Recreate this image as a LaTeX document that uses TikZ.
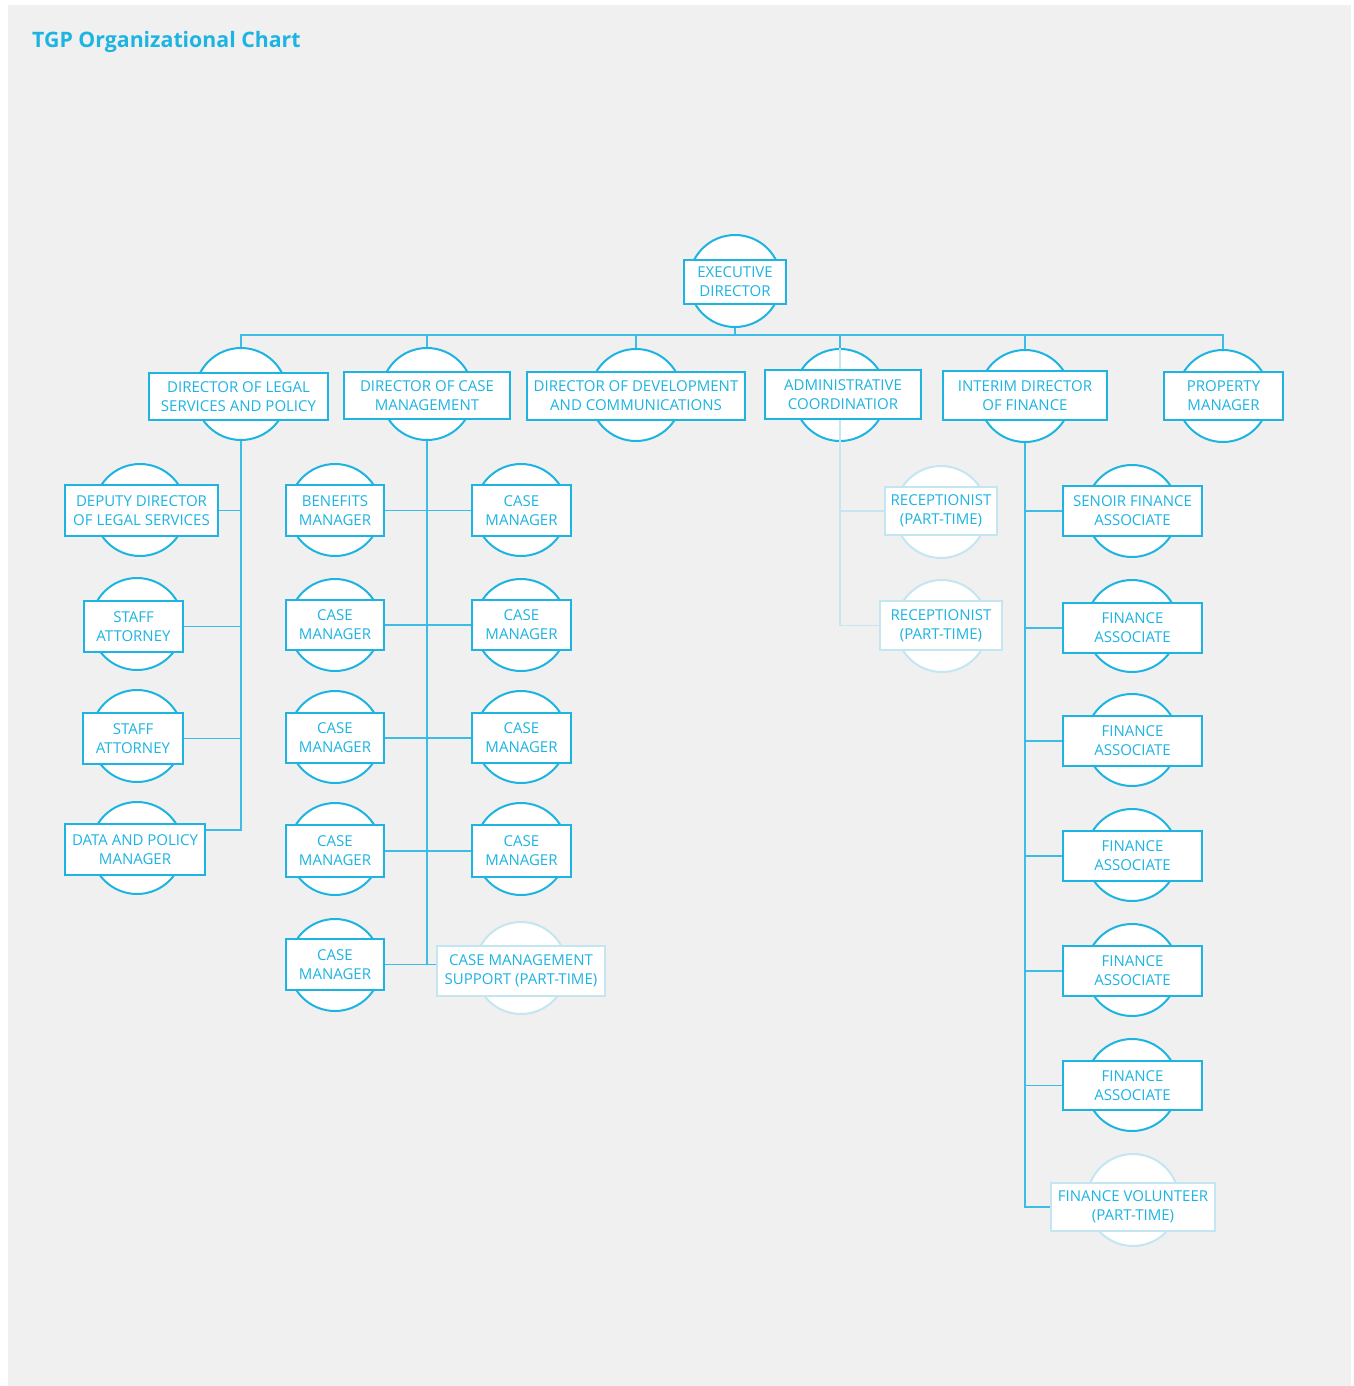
\documentclass[tikz,border=0pt]{standalone}
\usepackage{fontspec}
\setmainfont{Open Sans}
\definecolor{cy}{RGB}{29,180,226}
\definecolor{fa}{RGB}{196,230,240}
\definecolor{bg}{RGB}{240,240,240}
\definecolor{ln}{RGB}{60,188,230}
\tikzset{
 circ/.style={circle,draw=cy,fill=white,line width=2pt,minimum size=92pt,inner sep=0pt},
 box/.style={rectangle,draw=cy,fill=white,line width=2pt,inner sep=0pt,align=center,text=cy,font=\fontsize{15}{19}\selectfont},
 faded/.style={draw=fa},
 conn/.style={draw=ln,line width=1.1pt},
 fconn/.style={draw=fa,line width=1.5pt},
 titlestyle/.style={anchor=base west,text=cy,inner sep=0pt,font=\fontsize{21.3}{25}\selectfont\bfseries},
}
% [style] name cx cy x1 y1 x2 y2 text
\newcommand\onode[9][]{%
  \node[circ,#1] (#2c) at (#3,#4) {};
  \node[box,#1,minimum width={(#7-#5-2)*1pt},minimum height={(#8-#6-2)*1pt}] (#2) at ({(#5+#7)/2},{(#6+#8)/2+1}) {#9};
}
\begin{document}
\begin{tikzpicture}[x=1pt,y=-1pt]
\useasboundingbox (0,0) rectangle (1353,1386);
\fill[white] (0,0) rectangle (1353,1386);
\fill[bg] (8,5) rectangle (1351,1386);
\node[titlestyle] (title) at (32,48) {TGP Organizational Chart};

% top
\onode{exec}{735}{281}{683}{258}{787}{304}{EXECUTIVE\\DIRECTOR}
\coordinate (bus) at (735,335);
% level 1
\onode{legal}{241}{394}{148}{371}{329}{420}{DIRECTOR OF LEGAL\\SERVICES AND POLICY}
\onode{cmg}{427}{394}{343}{370}{511}{419}{DIRECTOR OF CASE\\MANAGEMENT}
\onode{dev}{636}{395}{526}{370}{746}{420}{DIRECTOR OF DEVELOPMENT\\AND COMMUNICATIONS}
\onode{adm}{840}{395}{764}{368}{922}{419}{ADMINISTRATIVE\\COORDINATIOR}
\onode{fin}{1025}{396}{942}{369}{1108}{420}{INTERIM DIRECTOR\\OF FINANCE}
\onode{prop}{1223}{396}{1163}{370}{1284}{420}{PROPERTY\\MANAGER}

% legal
\onode{dep}{140}{510}{64}{483}{219}{536}{DEPUTY DIRECTOR\\OF LEGAL SERVICES}
\onode{sa1}{137}{624}{83}{599}{184}{652}{STAFF\\ATTORNEY}
\onode{sa2}{137}{736}{82}{711}{184}{764}{STAFF\\ATTORNEY}
\onode{dpm}{137}{848}{64}{822}{206}{875}{DATA AND POLICY\\MANAGER}

% case management
\onode{bm}{335}{510}{285}{483}{385}{536}{BENEFITS\\MANAGER}
\onode{cr1}{521}{510}{471}{483}{572}{536}{CASE\\MANAGER}
\onode{cl2}{335}{625}{285}{598}{385}{650}{CASE\\MANAGER}
\onode{cr2}{521}{625}{471}{598}{572}{650}{CASE\\MANAGER}
\onode{cl3}{335}{737}{285}{711}{385}{763}{CASE\\MANAGER}
\onode{cr3}{521}{737}{471}{711}{572}{763}{CASE\\MANAGER}
\onode{cl4}{335}{849}{285}{823}{385}{877}{CASE\\MANAGER}
\onode{cr4}{521}{849}{471}{823}{572}{877}{CASE\\MANAGER}
\onode{cl5}{335}{965}{285}{937}{385}{990}{CASE\\MANAGER}
\onode[faded]{sup}{521}{968}{436}{944}{606}{996}{CASE MANAGEMENT\\SUPPORT (PART-TIME)}

% admin
\onode[faded]{rec1}{941}{512}{884}{485}{998}{535}{RECEPTIONIST\\(PART-TIME)}
\onode[faded]{rec2}{942}{626}{879}{599}{1003}{650}{RECEPTIONIST\\(PART-TIME)}

% finance
\onode{sfa}{1132}{511}{1062}{484}{1203}{536}{SENOIR FINANCE\\ASSOCIATE}
\onode{fa1}{1132}{626}{1062}{601}{1203}{653}{FINANCE\\ASSOCIATE}
\onode{fa2}{1132}{740}{1062}{714}{1203}{766}{FINANCE\\ASSOCIATE}
\onode{fa3}{1132}{855}{1062}{829}{1203}{881}{FINANCE\\ASSOCIATE}
\onode{fa4}{1132}{970}{1062}{944}{1203}{996}{FINANCE\\ASSOCIATE}
\onode{fa5}{1132}{1085}{1062}{1059}{1203}{1110}{FINANCE\\ASSOCIATE}
\onode[faded]{vol}{1133}{1200}{1050}{1181}{1216}{1231}{FINANCE VOLUNTEER\\(PART-TIME)}

% connectors: top
\draw[conn] (execc.south) -- (bus);
\draw[conn] (bus) -| (legalc.north);
\draw[conn] (bus) -| (cmgc.north);
\draw[conn] (bus) -| (devc.north);
\draw[conn] (bus) -| (admc.north);
\draw[conn] (bus) -| (finc.north);
\draw[conn] (bus) -| (propc.north);

% legal
\coordinate (dpmj) at ([yshift=19.5pt]dpm.east);
\draw[conn] (legalc.south) |- (dpmj);
\draw[conn] (dep.east) -- (dep.east -| legalc.south);
\draw[conn] (sa1.east) -- (sa1.east -| legalc.south);
\draw[conn] (sa2.east) -- (sa2.east -| legalc.south);

% case management
\draw[conn] (cmgc.south) -- (cmgc.south |- cl5.east);
\draw[conn] (cl5.east) -- (cl5.east -| sup.west);
\draw[conn] (bm.east) -- (bm.east -| cr1.west);
\draw[conn] (cl2.east) -- (cl2.east -| cr2.west);
\draw[conn] (cl3.east) -- (cl3.east -| cr3.west);
\draw[conn] (cl4.east) -- (cl4.east -| cr4.west);

% admin (faded)
\draw[fconn] (admc.north) -- (admc.north |- adm.north);
\draw[fconn] (admc.north |- adm.south) -- (admc.north |- rec2.west);
\draw[fconn] (rec1.west) -- (rec1.west -| admc.north);
\draw[fconn] (rec2.west) -- (rec2.west -| admc.north);

% finance
\draw[conn] (finc.south) |- (vol.west);
\draw[conn] (sfa.west) -- (sfa.west -| finc.south);
\draw[conn] (fa1.west) -- (fa1.west -| finc.south);
\draw[conn] (fa2.west) -- (fa2.west -| finc.south);
\draw[conn] (fa3.west) -- (fa3.west -| finc.south);
\draw[conn] (fa4.west) -- (fa4.west -| finc.south);
\draw[conn] (fa5.west) -- (fa5.west -| finc.south);
\end{tikzpicture}
\end{document}
